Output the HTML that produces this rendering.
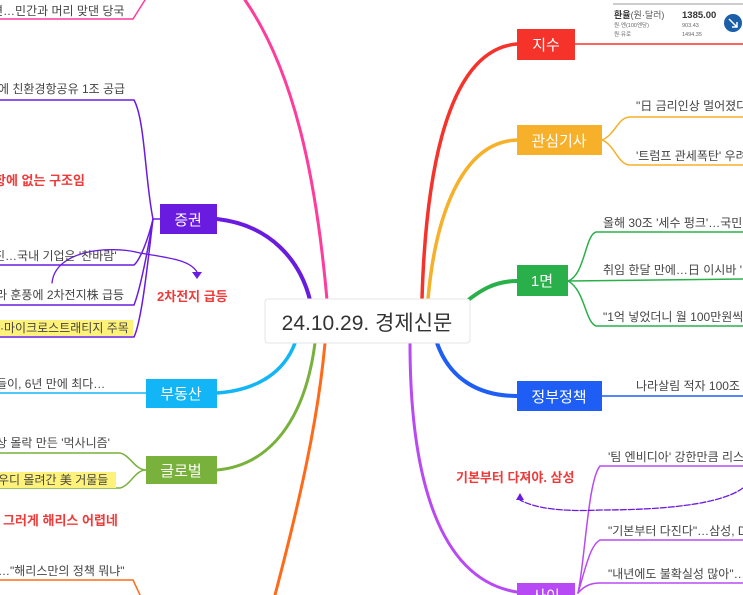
<!DOCTYPE html>
<html><head><meta charset="utf-8"><style>
html,body{margin:0;padding:0;background:#fff;width:743px;height:595px;overflow:hidden}
svg{display:block}
text{font-family:"Liberation Sans","Noto Sans CJK KR",sans-serif}
.t{font-size:12px;fill:#444}
.n{font-size:15px;fill:#fff;text-anchor:middle}
.r{font-size:13px;fill:#f03a3a;font-weight:bold}
</style></head><body>
<svg width="743" height="595" viewBox="0 0 743 595" xmlns="http://www.w3.org/2000/svg">
<g fill="none" stroke-linecap="round">
<!-- pink top -->
<path d="M327 300 C318 200 300 80 245 0" stroke="#ff3c9b" stroke-width="3"/>
<path d="M0 19 L133 19 L145 0" stroke="#ff3c9b" stroke-width="1.5"/>
<!-- 증권 -->
<path d="M217 219 C270 225 300 260 310 300" stroke="#6a1be0" stroke-width="4"/>
<path d="M160 219 L153 219 C145 180 145 120 134 100 L0 100" stroke="#6a1be0" stroke-width="1.5"/>
<path d="M153 219 C148 240 140 260 134 265 L0 265" stroke="#6a1be0" stroke-width="1.5"/>
<path d="M153 219 C148 250 140 290 134 305 L0 305" stroke="#6a1be0" stroke-width="1.5"/>
<path d="M153 219 C148 260 142 320 134 337 L0 337" stroke="#6a1be0" stroke-width="1.5"/>
<path d="M52 283 C55 250 110 245 140 253 C170 258 190 260 197 272" stroke="#6a1be0" stroke-width="1.3"/>
<!-- 부동산 -->
<path d="M217 393 C260 390 285 370 295 343" stroke="#12b5f5" stroke-width="3.5"/>
<path d="M146 393 L0 393" stroke="#12b5f5" stroke-width="1.5"/>
<!-- 글로벌 -->
<path d="M217 470 C270 465 305 420 315 343" stroke="#78b13b" stroke-width="3"/>
<path d="M146 470 C135 470 130 455 120 453 L0 453" stroke="#78b13b" stroke-width="1.5"/>
<path d="M146 470 C135 470 130 486 120 488 L0 488" stroke="#78b13b" stroke-width="1.5"/>
<!-- orange bottom -->
<path d="M325 343 C318 420 300 500 275 595" stroke="#ff6a1a" stroke-width="3"/>
<path d="M0 580 L133 580 L140 595" stroke="#ff6a1a" stroke-width="1.5"/>
<!-- 지수 -->
<path d="M422 299 C425 200 440 50 517 44" stroke="#f5332b" stroke-width="3.5"/>
<path d="M575 44 L743 44" stroke="#f5332b" stroke-width="1.5"/>
<!-- 관심기사 -->
<path d="M428 299 C435 220 460 142 517 140" stroke="#f6b02a" stroke-width="3.5"/>
<path d="M602 140 C615 135 618 117 630 117 L743 117" stroke="#f6b02a" stroke-width="1.5"/>
<path d="M602 140 C615 145 618 165 630 165 L743 165" stroke="#f6b02a" stroke-width="1.5"/>
<!-- 1면 -->
<path d="M462 305 C480 290 495 281 517 281" stroke="#2ab04a" stroke-width="4"/>
<path d="M568 281 C585 275 585 235 596 232 L743 232" stroke="#2ab04a" stroke-width="1.5"/>
<path d="M568 281 L743 279" stroke="#2ab04a" stroke-width="1.5"/>
<path d="M568 281 C585 290 585 322 596 326 L743 326" stroke="#2ab04a" stroke-width="1.5"/>
<!-- 정부정책 -->
<path d="M437 343 C450 380 480 396 517 396" stroke="#1e5ef5" stroke-width="4"/>
<path d="M602 396 L743 396" stroke="#1e5ef5" stroke-width="1.5"/>
<!-- 사이 -->
<path d="M410 343 C410 480 440 580 517 592" stroke="#b84af5" stroke-width="3"/>
<path d="M578 593 C585 560 588 480 600 466 L743 466" stroke="#b84af5" stroke-width="1.5"/>
<path d="M578 593 C585 570 590 545 600 540 L743 540" stroke="#b84af5" stroke-width="1.5"/>
<path d="M578 593 C585 585 592 583 600 583 L743 583" stroke="#b84af5" stroke-width="1.5"/>
<path d="M743 488 C720 505 660 510 600 510 C560 512 535 508 520 500" stroke="#6a1be0" stroke-width="1.3" stroke-dasharray="6 2"/>
</g>
<polygon points="192,272 202,272 197,279" fill="#6a1be0"/>
<polygon points="516,500 524,500 520,493" fill="#6a1be0"/>
<!-- exchange box -->
<line x1="613" y1="4" x2="743" y2="4" stroke="#999" stroke-width="1"/>
<text x="614" y="18" font-size="9" font-weight="bold" fill="#333">환율<tspan font-weight="normal" fill="#555">(원·달러)</tspan></text>
<text x="682" y="18" font-size="9.5" font-weight="bold" fill="#333">1385.00</text>
<text x="614" y="27" font-size="5.5" fill="#666">원·엔(100엔당)</text>
<text x="682" y="27" font-size="5.5" fill="#666">903.43</text>
<text x="614" y="36" font-size="5.5" fill="#666">원·유로</text>
<text x="682" y="36" font-size="5.5" fill="#666">1494.35</text>
<circle cx="733" cy="23" r="9" fill="#1a5fa8"/>
<path d="M729 19 L737 27 M737 22 L737 27 L732 27" stroke="#fff" stroke-width="1.5" fill="none"/>
<!-- central -->
<rect x="265" y="299" width="205" height="44" rx="3" fill="#fff" stroke="#e4e4e4"/>
<text x="367" y="330" font-size="21" fill="#333" text-anchor="middle">24.10.29. 경제신문</text>
<!-- nodes -->
<rect x="160" y="204" width="57" height="30" fill="#6a1be0"/><text x="188" y="225" class="n">증권</text>
<rect x="146" y="379" width="71" height="29" fill="#12b5f5"/><text x="181" y="399" class="n">부동산</text>
<rect x="146" y="456" width="71" height="28" fill="#78b13b"/><text x="181" y="476" class="n">글로벌</text>
<rect x="517" y="29" width="58" height="31" fill="#f5332b"/><text x="546" y="50" class="n">지수</text>
<rect x="517" y="125" width="85" height="30" fill="#f6b02a"/><text x="559" y="146" class="n">관심기사</text>
<rect x="517" y="265" width="51" height="31" fill="#2ab04a"/><text x="542" y="286" class="n">1면</text>
<rect x="517" y="381" width="85" height="30" fill="#1e5ef5"/><text x="559" y="402" class="n">정부정책</text>
<rect x="517" y="583" width="58" height="20" fill="#b84af5"/><text x="546" y="601" class="n">사이</text>
<!-- left texts -->
<text x="-8" y="15" class="t">련…민간과 머리 맞댄 당국</text>
<text x="-2" y="93" class="t">에 친환경항공유 1조 공급</text>
<text x="-6" y="185" class="r">항에 없는 구조임</text>
<text x="-6" y="260" class="t">진…국내 기업은 '찬바람'</text>
<text x="-4" y="299" class="t">라 훈풍에 2차전지株 급등</text>
<rect x="0" y="320" width="133" height="16" fill="#fff27a"/>
<text x="0" y="332" class="t">·마이크로스트래티지 주목</text>
<text x="157" y="301" class="r">2차전지 급등</text>
<text x="-4" y="388" class="t">들이, 6년 만에 최다…</text>
<text x="-4" y="447" class="t">상 몰락 만든 '먹사니즘'</text>
<rect x="0" y="472" width="116" height="16" fill="#fff27a"/>
<text x="-2" y="484" class="t">우디 몰려간 美 거물들</text>
<text x="3" y="525" class="r">그러게 해리스 어렵네</text>
<text x="-2" y="575" class="t">…"해리스만의 정책 뭐냐"</text>
<!-- right texts -->
<text x="636" y="110" class="t">"日 금리인상 멀어졌다</text>
<text x="636" y="160" class="t">'트럼프 관세폭탄' 우려</text>
<text x="603" y="227" class="t">올해 30조 '세수 펑크'…국민</text>
<text x="603" y="274" class="t">취임 한달 만에…日 이시바 '</text>
<text x="603" y="321" class="t">"1억 넣었더니 월 100만원씩</text>
<text x="636" y="390" class="t">나라살림 적자 100조</text>
<text x="608" y="461" class="t">'팀 엔비디아' 강한만큼 리스</text>
<text x="456" y="482" class="r">기본부터 다져야. 삼성</text>
<text x="608" y="535" class="t">"기본부터 다진다"…삼성, D</text>
<text x="608" y="578" class="t">"내년에도 불확실성 많아"…</text>
</svg>
</body></html>
